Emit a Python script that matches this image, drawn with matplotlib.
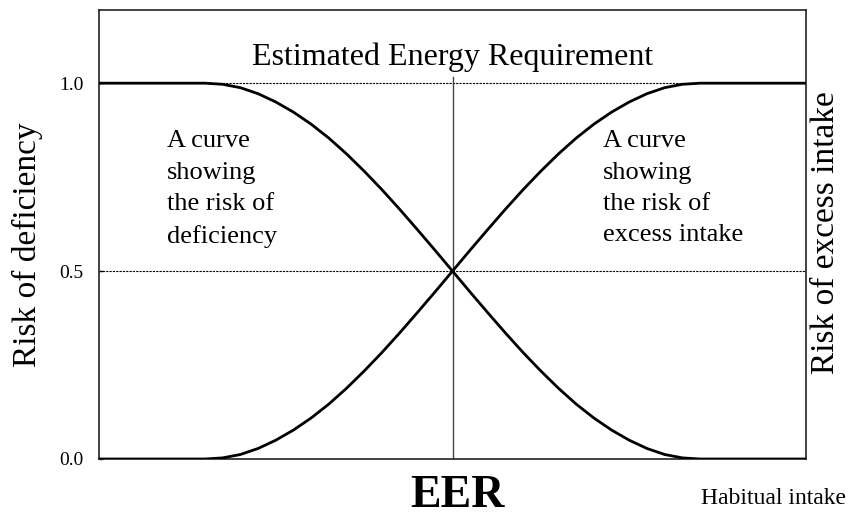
import matplotlib
matplotlib.use('Agg')
import matplotlib.pyplot as plt

# Style
SERIF = 'Liberation Serif'
plt.rcParams['font.family'] = SERIF

# Data (habitual intake on a 0-100 scale, EER at 50)
intake = [0, 15, 17.5, 20, 22.5, 25, 27.5, 30, 32.5, 35, 37.5, 40, 42.5, 45, 47.5,
          50, 52.5, 55, 57.5, 60, 62.5, 65, 67.5, 70, 72.5, 75, 77.5, 80, 82.5, 85, 100]
risk_excess = [0, 0, 0.003, 0.012, 0.028, 0.05, 0.077, 0.109, 0.146, 0.188, 0.234, 0.283,
               0.335, 0.389, 0.444, 0.5, 0.556, 0.611, 0.665, 0.717, 0.766, 0.812, 0.854,
               0.891, 0.923, 0.95, 0.972, 0.988, 0.997, 1, 1]
risk_deficiency = [1, 1, 0.997, 0.988, 0.972, 0.95, 0.923, 0.891, 0.854, 0.812, 0.766, 0.717,
                   0.665, 0.611, 0.556, 0.5, 0.444, 0.389, 0.335, 0.283, 0.234, 0.188, 0.146,
                   0.109, 0.077, 0.05, 0.028, 0.012, 0.003, 0, 0]
eer_x = 50
y_ticks = [0.0, 0.5, 1.0]
y_tick_labels = ['0.0', '0.5', '1.0']

fig = plt.figure(figsize=(8.58, 5.18), dpi=100)
ax = fig.add_axes([0.1154, 0.1139, 0.824, 0.867])

ax.plot(intake, risk_deficiency, color='black', lw=2.0, zorder=3)
ax.plot(intake, risk_excess, color='black', lw=2.0, zorder=3)

# reference lines
ax.axhline(1.0, color='black', lw=0.8, ls=(0, (2, 1)), zorder=1)
ax.axhline(0.5, color='black', lw=0.8, ls=(0, (2, 1)), zorder=1)
ax.plot([eer_x, eer_x], [0, 1.016], color='#444444', lw=1.0, zorder=2)

ax.set_xlim(0, 100)
ax.set_ylim(0, 1.195)
ax.set_xticks([])
ax.set_yticks(y_ticks)
ax.set_yticklabels(y_tick_labels, fontsize=14)
ax.tick_params(axis='y', direction='in', length=3, width=1, pad=11)
for s in ax.spines.values():
    s.set_linewidth(1.2)
    s.set_color('#222222')

ax.text(eer_x, 1.048, 'Estimated Energy Requirement', ha='center', va='baseline', fontsize=23)

ax.text(9.6, 0.875, 'A curve\nshowing\nthe risk of\ndeficiency', ha='left', va='top',
        fontsize=19, linespacing=1.55)
ax.text(71.3, 0.875, 'A curve\nshowing\nthe risk of\nexcess intake', ha='left', va='top',
        fontsize=19, linespacing=1.55)

fig.text(0.032, 0.527, 'Risk of deficiency', rotation=90, ha='center', va='center', fontsize=24)
fig.text(0.962, 0.55, 'Risk of excess intake', rotation=90, ha='center', va='center', fontsize=24)
fig.text(0.533, 0.021, 'EER', ha='center', va='baseline', fontsize=33, fontweight='bold')
fig.text(0.902, 0.027, 'Habitual intake', ha='center', va='baseline', fontsize=17)

plt.savefig('out.png', dpi=100)
plt.close()
